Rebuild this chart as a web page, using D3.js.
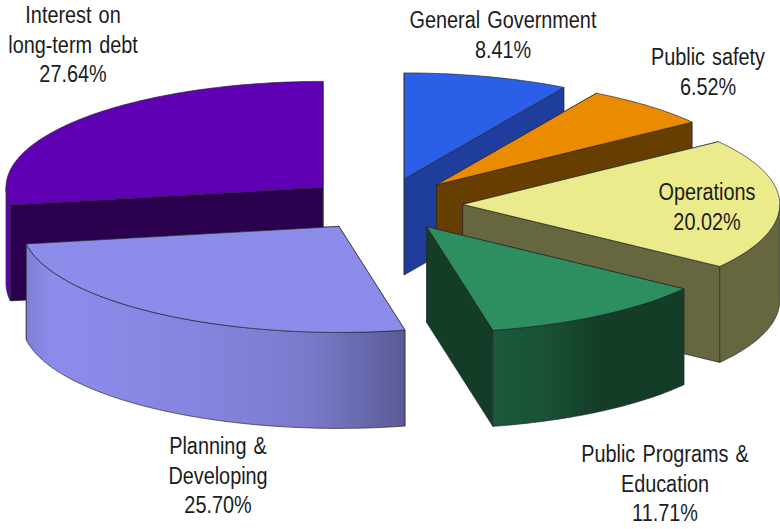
<!DOCTYPE html>
<html>
<head>
<style>
    html, body { margin: 0; padding: 0; background: #fff; }
    text { font-family: "Liberation Sans", Arial, sans-serif; fill: #1c1c1c; }
</style>
</head>
<body>
<svg id="workspace" width="780" height="529"></svg>
<script src="https://d3js.org/d3.v7.min.js"></script>
<script>
    const WIDTH = 780;
    const HEIGHT = 529;

    // chart data, clockwise from 12 o'clock
    const categories = ['General Government', 'Public safety', 'Operations',
        'Public Programs & Education', 'Planning & Developing', 'Interest on long-term debt'];
    const values = [8.41, 6.52, 20.02, 11.71, 25.70, 27.64];
    const labelLines = [
        ['General Government', '8.41%'],
        ['Public safety', '6.52%'],
        ['Operations', '20.02%'],
        ['Public Programs &', 'Education', '11.71%'],
        ['Planning &', 'Developing', '25.70%'],
        ['Interest on', 'long-term debt', '27.64%']
    ];

    // styling / layout, same order as categories
    const topColors = ['#2b5fe8', '#eb8c00', '#ebeb8c', '#2d8f5f', '#8c8ceb', '#5f00b5'];
    const wallColors = ['#1f3d9c', '#663f00', '#66663f', '#143d28', '#5c5c99', '#2a004f'];
    const outerColors = ['#1f3d9c', '#663f00', '#66663f', 'url(#gradPrograms)', 'url(#gradPlanning)', '#5f00b5'];
    const labelAnchors = [[503, 28], [708, 65], [707, 200], [665, 462], [218, 454], [73, 23]];
    const drawOrder = [5, 0, 1, 2, 3, 4];

    const EXPLODE = 0.25;
    const DEPTH = 96;
    const FONT_SIZE = 24.5;
    const LINE_HEIGHT = 29.5;
    const TEXT_SQUEEZE = 0.81;

    // the unit disc mapped on to the tilted ellipse
    const xScale = d3.scaleLinear().domain([-1, 1]).range([66.5, 700.5]);
    const yScale = d3.scaleLinear().domain([-1, 1]).range([98.5, 310.5]);

    let svg = d3.select('#workspace');
    let defs = svg.append('defs');

    function addGradient(id, stops) {
        let g = defs.append('linearGradient').attr('id', id);
        stops.forEach(function(s) {
            g.append('stop').attr('offset', s[0]).attr('stop-color', s[1]);
        });
    }
    addGradient('gradPlanning', [[0, '#7f7fd6'], [0.07, '#8c8ceb'], [0.45, '#8585e0'], [0.75, '#7a7acb'], [1, '#5a5a96']]);
    addGradient('gradPrograms', [[0, '#1b5a3c'], [0.25, '#195237'], [0.55, '#143d28'], [1, '#143d28']]);

    const pie = d3.pie().sort(null).value(d => d);
    const arcs = pie(values);

    function rimPoint(slice, angle, drop) {
        let mid = (slice.startAngle + slice.endAngle) / 2;
        let ux = EXPLODE * Math.sin(mid) + Math.sin(angle);
        let uy = -EXPLODE * Math.cos(mid) - Math.cos(angle);
        return [xScale(ux), yScale(uy) + drop];
    }

    function apexPoint(slice, drop) {
        let mid = (slice.startAngle + slice.endAngle) / 2;
        return [xScale(EXPLODE * Math.sin(mid)), yScale(-EXPLODE * Math.cos(mid)) + drop];
    }

    function sampleAngles(a0, a1) {
        let n = Math.max(2, Math.ceil((a1 - a0) * 60));
        return d3.range(n + 1).map(i => a0 + (a1 - a0) * i / n);
    }

    const line = d3.line().curve(d3.curveLinearClosed);

    function drawFace(pts, fill) {
        svg.append('path')
            .attr('d', line(pts))
            .attr('fill', fill)
            .attr('stroke', '#26262c')
            .attr('stroke-opacity', 0.75)
            .attr('stroke-width', 0.9)
            .attr('stroke-linejoin', 'round');
    }

    drawOrder.forEach(function(i) {
        let s = arcs[i];

        // straight walls: back one first, the convex wedge hides whatever should not show
        [s.startAngle, s.endAngle].forEach(function(a) {
            drawFace([apexPoint(s, 0), rimPoint(s, a, 0), rimPoint(s, a, DEPTH), apexPoint(s, DEPTH)], wallColors[i]);
        });

        // curved outer wall, only the part that faces the viewer
        let from = Math.max(s.startAngle, Math.PI / 2);
        let to = Math.min(s.endAngle, Math.PI * 1.5);
        if (to > from) {
            let angles = sampleAngles(from, to);
            let upper = angles.map(a => rimPoint(s, a, 0));
            let lower = angles.slice().reverse().map(a => rimPoint(s, a, DEPTH));
            drawFace(upper.concat(lower), outerColors[i]);
        }

        // top of the slice
        let rim = sampleAngles(s.startAngle, s.endAngle).map(a => rimPoint(s, a, 0));
        drawFace([apexPoint(s, 0)].concat(rim), topColors[i]);
    });

    // labels
    labelLines.forEach(function(lines, i) {
        let c = labelAnchors[i];
        lines.forEach(function(txt, j) {
            svg.append('text')
                .attr('transform', 'translate(' + c[0] + ',' + (c[1] + j * LINE_HEIGHT) + ') scale(' + TEXT_SQUEEZE + ',1)')
                .attr('text-anchor', 'middle')
                .attr('font-size', FONT_SIZE)
                .attr('word-spacing', 2)
                .text(txt);
        });
    });
</script>
</body>
</html>
